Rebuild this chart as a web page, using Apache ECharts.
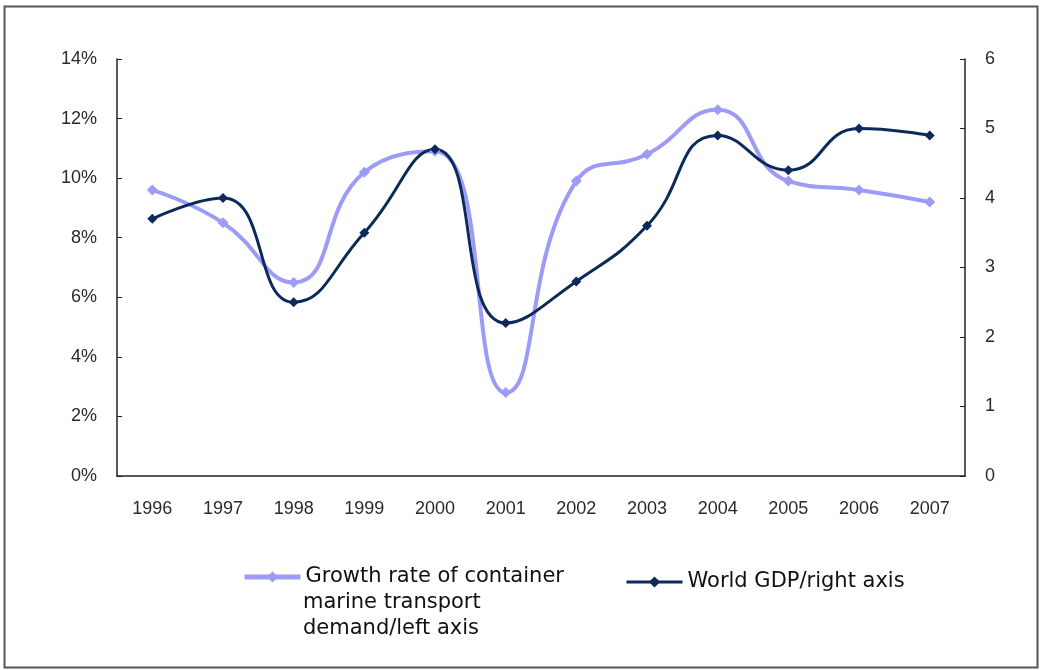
<!DOCTYPE html>
<html><head><meta charset="utf-8">
<script src="https://cdn.jsdelivr.net/npm/echarts@6/dist/echarts.min.js"></script>
<style>html,body{margin:0;padding:0;background:#fff}#c{width:1040px;height:670px}</style>
</head><body><div id="c"></div>
<script>
const years = ['1996','1997','1998','1999','2000','2001','2002','2003','2004','2005','2006','2007'];
const containerGrowth = [9.6, 8.5, 6.5, 10.2, 10.9, 2.8, 9.9, 10.8, 12.3, 9.9, 9.6, 9.2];
const worldGDP = [3.7, 4.0, 2.5, 3.5, 4.7, 2.2, 2.8, 3.6, 4.9, 4.4, 5.0, 4.9];
const leftTicks = [0, 2, 4, 6, 8, 10, 12, 14];
const rightTicks = [0, 1, 2, 3, 4, 5, 6];
const nameContainer = 'Growth rate of container';
const nameContainerRest = ['marine transport', 'demand/left axis'];
const nameGDP = 'World GDP/right axis';

const chart = echarts.init(document.getElementById('c'), null, {renderer: 'canvas'});
const axisFont = {fontFamily: 'Liberation Sans, Arial, sans-serif', fontSize: 18, color: '#2a2a2a'};
const legendFont = {fontFamily: 'DejaVu Sans, Verdana, sans-serif', fontSize: 21, color: '#111', lineHeight: 26};
chart.setOption({
  animation: false,
  backgroundColor: '#fff',
  graphic: [
    {type: 'rect', shape: {x: 4.5, y: 6.5, width: 1033, height: 661}, style: {fill: 'none', stroke: '#555', lineWidth: 2}, silent: true},
    {type: 'text', left: 303, top: 590, style: {text: nameContainerRest.join('\n'), font: '21px "DejaVu Sans", Verdana, sans-serif', fill: '#111', lineHeight: 26}, silent: true}
  ],
  grid: {left: 117, right: 75, top: 59, bottom: 194},
  legend: [
    {data: [nameContainer], left: 242, top: 564, padding: 0, itemWidth: 56, itemHeight: 14, textStyle: legendFont, lineStyle: {width: 5}},
    {data: [nameGDP], left: 625, top: 569, padding: 0, itemWidth: 56, itemHeight: 14, textStyle: legendFont, lineStyle: {width: 3}}
  ],
  xAxis: {type: 'category', data: years, boundaryGap: true,
    axisLine: {lineStyle: {color: '#222', width: 1.5}},
    axisTick: {inside: true, length: 5, lineStyle: {color: '#222'}},
    axisLabel: Object.assign({margin: 24}, axisFont)},
  yAxis: [
    {type: 'value', min: 0, max: 14, interval: 2, position: 'left',
     axisLine: {show: true, lineStyle: {color: '#222', width: 1.5}},
     axisTick: {show: true, inside: true, length: 5, lineStyle: {color: '#222'}},
     splitLine: {show: false},
     axisLabel: Object.assign({margin: 20, formatter: v => leftTicks.includes(v) ? v + '%' : ''}, axisFont)},
    {type: 'value', min: 0, max: 6, interval: 1, position: 'right',
     axisLine: {show: true, lineStyle: {color: '#222', width: 1.5}},
     axisTick: {show: true, inside: true, length: 5, lineStyle: {color: '#222'}},
     splitLine: {show: false},
     axisLabel: Object.assign({margin: 20, formatter: v => rightTicks.includes(v) ? String(v) : ''}, axisFont)}
  ],
  series: [
    {name: nameContainer, type: 'line', yAxisIndex: 0, data: containerGrowth, smooth: 0.5,
     symbol: 'diamond', symbolSize: 11,
     lineStyle: {color: '#9c9cf7', width: 4}, itemStyle: {color: '#9c9cf7'}},
    {name: nameGDP, type: 'line', yAxisIndex: 1, data: worldGDP, smooth: 0.5,
     symbol: 'diamond', symbolSize: 10,
     lineStyle: {color: '#0b2a5a', width: 3}, itemStyle: {color: '#0b2a5a'}}
  ]
});
</script></body></html>
